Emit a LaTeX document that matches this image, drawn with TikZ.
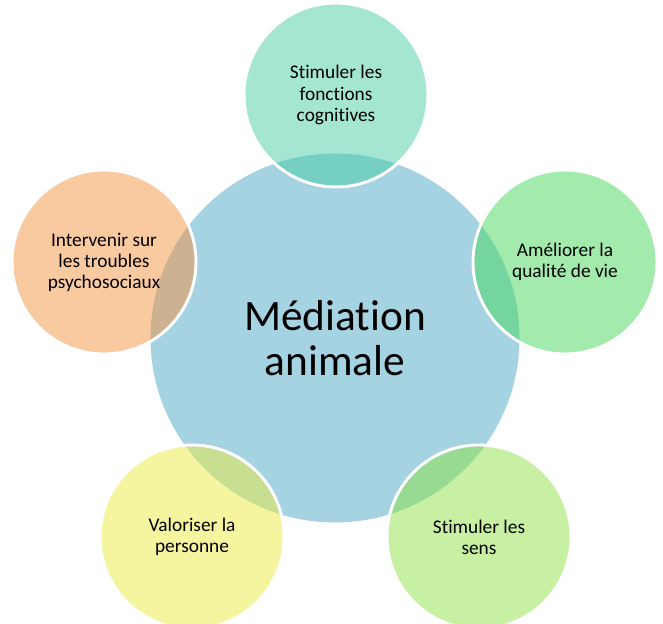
\documentclass[tikz,border=0pt]{standalone}
\usepackage{fontspec}
\setmainfont{Carlito}[Ligatures=NoCommon]
\definecolor{hubblue}{RGB}{165,211,226}
\definecolor{petalmint}{RGB}{73,205,165}
\definecolor{petalgreen}{RGB}{71,215,91}
\definecolor{petallime}{RGB}{143,225,69}
\definecolor{petalyellow}{RGB}{235,235,65}
\definecolor{petalorange}{RGB}{243,147,65}
\begin{document}
\begin{tikzpicture}[x=0.03cm, y=-0.03cm,
  hub/.style={circle, fill=hubblue, inner sep=0pt, minimum size=11.07cm, align=center, font=\fontsize{37}{38}\selectfont},
  petal/.style={circle, draw=white, line width=2.5pt, inner sep=0pt, minimum size=5.52cm, fill opacity=0.5, text opacity=1, align=center, font=\fontsize{16.5}{18}\selectfont}]
\useasboundingbox (0,0) rectangle (663,624);
\node (hub) at (335,338) [hub] {Médiation\\animale};

\node (cognition) at (336,95) [petal, fill=petalmint] {Stimuler les\\fonctions\\cognitives};
\node (qualite) at (565,262) [petal, fill=petalgreen] {Améliorer la\\qualité de vie};
\node (sens) at (479,537) [petal, fill=petallime] {Stimuler les\\sens};
\node (personne) at (192,537) [petal, fill=petalyellow] {Valoriser la\\personne};
\node (troubles) at (104,262) [petal, fill=petalorange] {Intervenir sur\\les troubles\\psychosociaux};
\end{tikzpicture}
\end{document}
